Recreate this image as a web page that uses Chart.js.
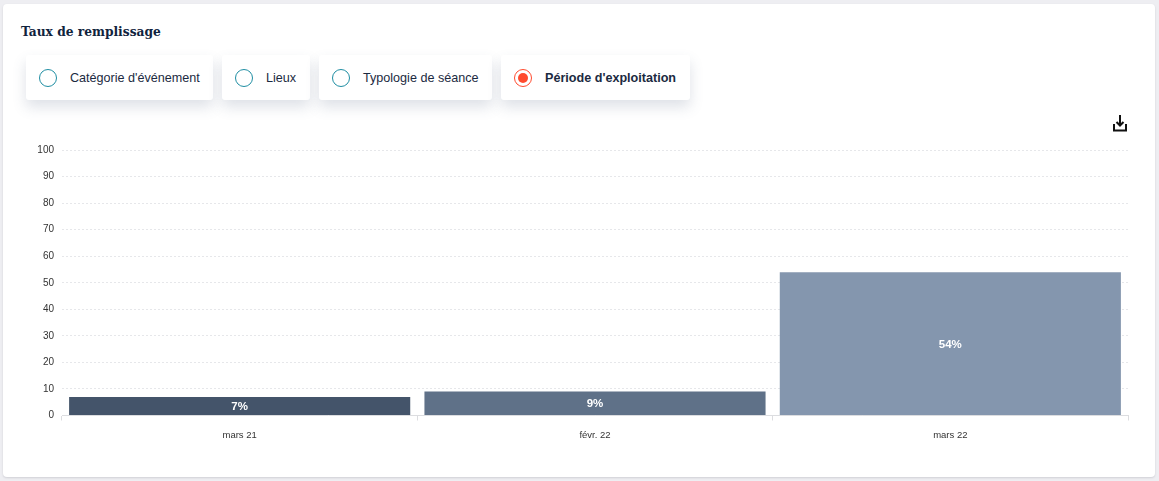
<!DOCTYPE html>
<html lang="fr"><head><meta charset="utf-8">
<style>
html,body{margin:0;padding:0;width:1159px;height:481px;overflow:hidden;background:#eeeef2;font-family:"Liberation Sans",Arial,sans-serif}
#card{position:absolute;left:3px;top:4px;width:1152px;height:473px;background:#fff;border-radius:4px;box-shadow:0 1px 2px rgba(120,120,130,.25)}
h1{position:absolute;left:21px;top:22px;margin:0;font-family:"DejaVu Serif",serif;font-weight:bold;font-stretch:condensed;font-size:13.6px;line-height:18px;color:#10233d}
.opt{position:absolute;top:55px;height:45px;background:#fff;border-radius:3px;box-shadow:0 7px 14px rgba(70,90,120,.18);font-size:12.6px;line-height:46px;color:#1b2a41;white-space:nowrap}
.opt i{position:absolute;left:13px;top:14px;width:16px;height:16px;border:1.4px solid #1f8ea3;border-radius:50%}
.opt span{position:absolute;top:0}
.opt.on{font-weight:bold}
.opt.on i{border-color:#ff4a2e}
.opt.on i::after{content:"";position:absolute;left:3px;top:3px;width:10px;height:10px;border-radius:50%;background:#ff4a2e}
#dl{position:absolute;left:1112px;top:114px}
#wrap{position:absolute;left:10px;top:136px;width:1125px;height:314px}
</style></head><body>
<div id="card"></div>
<h1>Taux de remplissage</h1>
<div class="opt" style="left:26px;width:187px"><i></i><span style="left:44px">Catégorie d'événement</span></div>
<div class="opt" style="left:222px;width:88px"><i></i><span style="left:44px">Lieux</span></div>
<div class="opt" style="left:319px;width:173px"><i></i><span style="left:44px">Typologie de séance</span></div>
<div class="opt on" style="left:501px;width:189px"><i></i><span style="left:44px">Période d'exploitation</span></div>
<svg id="dl" width="16" height="18" viewBox="0 0 16 18" fill="none" stroke="#111" stroke-width="2"><path d="M8 1v10M4.500 8l3.500 3.500L11.500 8" /><path d="M2 10v6.500h12V10"/></svg>
<div id="wrap"><canvas id="c" width="1125" height="314"></canvas></div>
<script src="https://cdn.jsdelivr.net/npm/chart.js@4"></script>
<script>
const categories = ["mars 21", "févr. 22", "mars 22"];
const fillRates = [7, 9, 54];
const barColors = ["#44546a", "#5f7188", "#8496ae"];
const yTicks = [0,10,20,30,40,50,60,70,80,90,100];

const barLabels = {
  id: "barLabels",
  afterDatasetsDraw(chart) {
    const { ctx } = chart;
    const meta = chart.getDatasetMeta(0);
    ctx.save();
    ctx.font = "bold 11.5px 'Liberation Sans', Arial, sans-serif";
    ctx.fillStyle = "#fff";
    ctx.textAlign = "center";
    ctx.textBaseline = "middle";
    meta.data.forEach((bar, i) => {
      const p = bar.getProps(["x", "y", "base"], true);
      ctx.fillText(fillRates[i] + "%", p.x, (p.y + p.base) / 2 + 1);
    });
    ctx.restore();
  }
};

new Chart(document.getElementById("c"), {
  type: "bar",
  data: {
    labels: categories,
    datasets: [{
      data: fillRates,
      backgroundColor: barColors,
      borderWidth: 0,
      barPercentage: 0.96,
      categoryPercentage: 1
    }]
  },
  plugins: [barLabels],
  options: {
    responsive: false,
    animation: false,
    layout: { padding: { top: 5, right: 7, left: 0, bottom: 0 } },
    plugins: { legend: { display: false }, tooltip: { enabled: false } },
    scales: {
      x: {
        afterFit(s) { s.height = 34.5; },
        grid: { drawOnChartArea: false, drawTicks: true, tickLength: 5, color: "#dcdde0" },
        border: { color: "#dcdde0", width: 1 },
        ticks: { color: "#333", padding: 9, maxRotation: 0, font: { size: 9.500, family: "'Liberation Sans', Arial, sans-serif" } }
      },
      y: {
        min: 0, max: 100,
        afterFit(s) { s.width = 52; },
        afterBuildTicks(s) { s.ticks = yTicks.map(v => ({ value: v })); },
        grid: { drawTicks: false, color: "#e6e7ea", lineWidth: 1 },
        border: { display: false, dash: [2, 2] },
        ticks: { color: "#333", padding: 8, font: { size: 10, family: "'Liberation Sans', Arial, sans-serif" } }
      }
    }
  }
});
</script>
</body></html>
